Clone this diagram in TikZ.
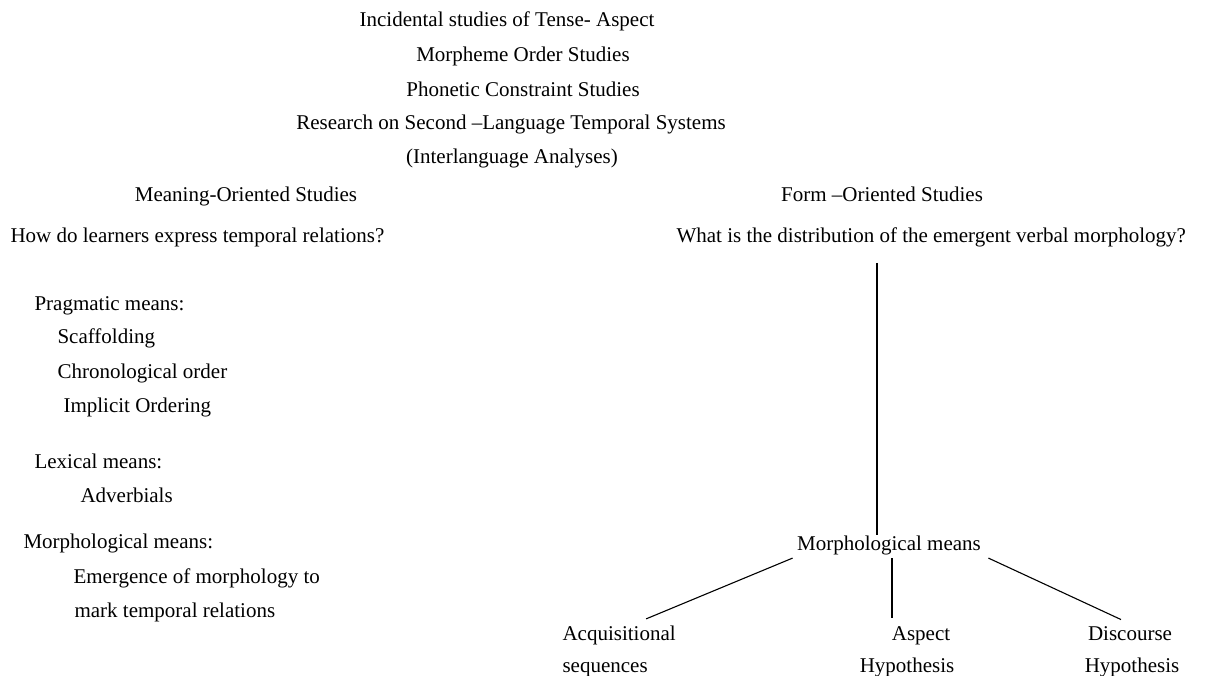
\documentclass[tikz,border=0pt]{standalone}
\usepackage{fontspec}
\setmainfont{Liberation Serif}
\tikzset{lbl/.style={inner sep=0pt, font=\fontsize{21}{25}\selectfont}}

\begin{document}
\begin{tikzpicture}[x=1pt,y=-1pt,line width=1.1pt]
    \useasboundingbox (0,0) rectangle (1218,676);
    % heading lines
    \foreach \x/\y/\txt [count=\i] in {507/27/Incidental studies of  Tense- Aspect,
        523/62/Morpheme Order Studies, 523/97/Phonetic Constraint Studies,
        511/130/Research on Second --Language Temporal Systems,
        512/164/(Interlanguage Analyses)}
        \node[lbl, anchor=base] (head\i) at (\x,\y) {\txt};
    \node[lbl, anchor=base] (meaning) at (246,202) {Meaning-Oriented Studies};
    \node[lbl, anchor=base] (form) at (882,202) {Form --Oriented Studies};
    \node[lbl, anchor=base west] (howq) at (10,243) {How do learners express temporal relations?};
    \node[lbl, anchor=base west] (whatq) at (676,243) {What is the distribution of the emergent verbal morphology?};
    % left column
    \foreach \x/\y/\txt [count=\i] in {34/310/Pragmatic means:, 57/343/Scaffolding,
        57/378/Chronological order, 63/412/Implicit Ordering,
        34/468/Lexical means:, 80/502/Adverbials,
        23/548/Morphological means:, 73/583/Emergence of morphology  to,
        74/617/mark temporal relations}
        \node[lbl, anchor=base west] (mean\i) at (\x,\y) {\txt};
    % right tree
    \node[lbl, anchor=base] (morph) at (889,550) {Morphological means};
    \node[lbl, anchor=base west] (acq) at (562,640) {Acquisitional};
    \node[lbl, anchor=base west] (acqb) at (562,672) {sequences};
    \node[lbl, anchor=base] (asp) at (921,640) {Aspect};
    \node[lbl, anchor=base] (aspb) at (907,672) {Hypothesis};
    \node[lbl, anchor=base] (disc) at (1130,640) {Discourse};
    \node[lbl, anchor=base] (discb) at (1132,672) {Hypothesis};
    \coordinate (stem) at (877,263);
    \coordinate (mid) at (892,558);
    \draw (stem) -- (stem |- morph.north);
    \draw ([xshift=-4pt,yshift=-3pt]morph.south west) -- ([xshift=649pt-622pt,yshift=6pt]acq.north);
    \draw (mid) -- ([yshift=8pt]mid |- asp.north);
    \draw ([xshift=7pt,yshift=-3pt]morph.south east) -- ([xshift=-9pt,yshift=6pt]disc.north);
\end{tikzpicture}
\end{document}
